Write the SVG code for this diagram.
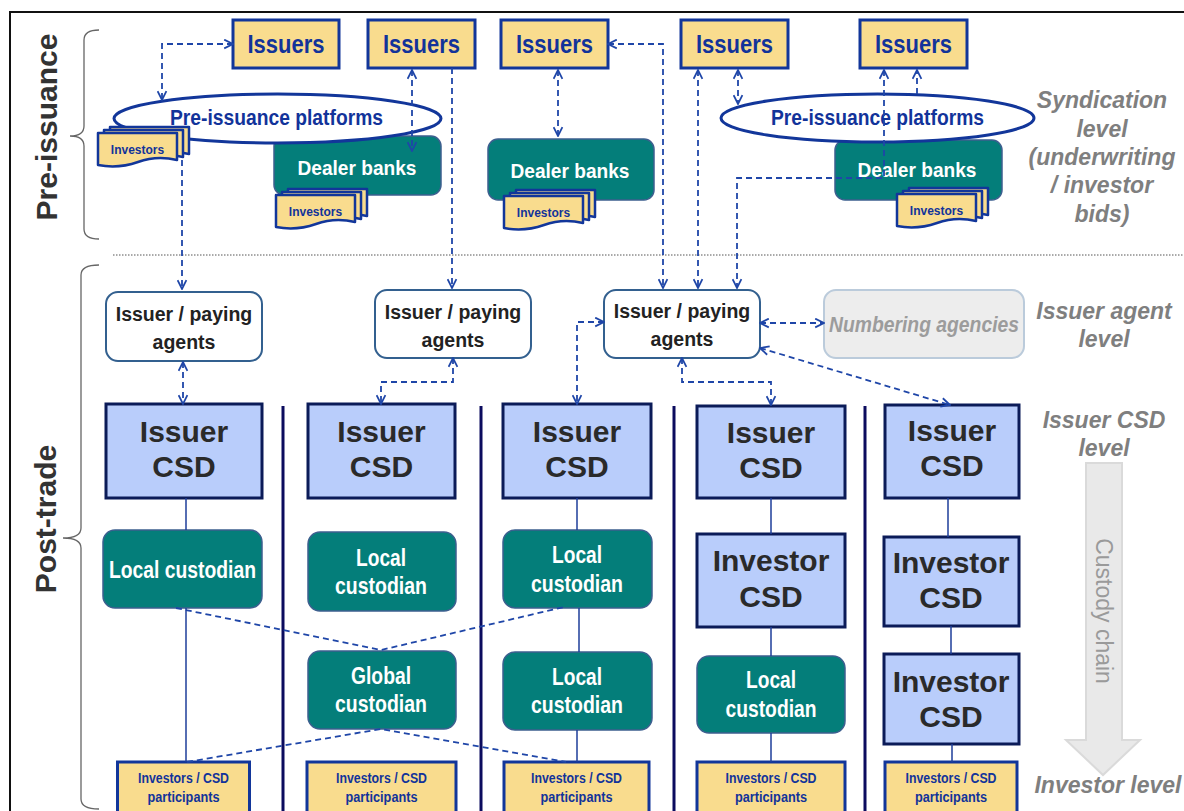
<svg xmlns="http://www.w3.org/2000/svg" xmlns:xlink="http://www.w3.org/1999/xlink" width="1184" height="811" viewBox="0 0 1184 811">
<style>
text{font-family:"Liberation Sans",Arial,sans-serif;font-weight:bold;text-anchor:middle}
.iss{fill:#F9DC8E;stroke:#12369A;stroke-width:3}
.tiss{font-size:25px;fill:#12339A}
.ell{fill:#fff;stroke:#12369A;stroke-width:3}
.tell{font-size:22px;fill:#12339A}
.dealer{fill:#047E7A;stroke:#3D5F8F;stroke-width:1.5}
.tw{fill:#fff;font-size:23px}
.agent{fill:#fff;stroke:#33608F;stroke-width:2}
.tag{fill:#222;font-size:19.5px}
.csd{fill:#B9CDFB;stroke:#0B1B58;stroke-width:3}
.tcsd{fill:#2A2A2A;font-size:30px}
.card{fill:#F9DC8E;stroke:#12369A;stroke-width:2.5;stroke-linejoin:round}
.tinv{fill:#12339A;font-size:12px}
.tip{fill:#12339A;font-size:14px}
.num{fill:#EDEDED;stroke:#BBCBDB;stroke-width:2}
.side{fill:#7F7F7F;font-style:italic;font-size:23px}
.dash{stroke:#1F46A8;stroke-width:1.8;stroke-dasharray:6 4;fill:none}
.solid{stroke:#1F3F9A;stroke-width:1.5;fill:none}
.sep{stroke:#0B0B5E;stroke-width:3}
.brace{fill:none;stroke:#666;stroke-width:1.3}
</style>
<defs>
<marker id="ah" viewBox="0 0 10 10" refX="9" refY="5" markerWidth="11" markerHeight="11" markerUnits="userSpaceOnUse" orient="auto-start-reverse">
<path d="M1,1 L9,5 L1,9" fill="none" stroke="#1F46A8" stroke-width="1.6"/>
</marker>
<g id="stk">
<path class="card" transform="translate(12,-6)" d="M0,0 H79 V27 Q59,22 40,29 Q20,36 0,32 Z"/>
<path class="card" transform="translate(6,-3)" d="M0,0 H79 V27 Q59,22 40,29 Q20,36 0,32 Z"/>
<path class="card" d="M0,0 H79 V27 Q59,22 40,29 Q20,36 0,32 Z"/>
<text class="tinv" x="39.5" y="21">Investors</text>
</g>
</defs>
<rect width="1184" height="811" fill="#fff"/>
<path d="M10,811 V12 H1184" fill="none" stroke="#111" stroke-width="2"/>
<line x1="113" y1="255" x2="1184" y2="255" stroke="#555" stroke-width="1" stroke-dasharray="1.5 1.5"/>

<g id="labels-left">
<text transform="translate(57,127) rotate(-90)" font-size="30" fill="#333">Pre-issuance</text>
<text transform="translate(56,519) rotate(-90)" font-size="30" fill="#333">Post-trade</text>
<path class="brace" d="M99,30 Q84,30 84,40 V126 Q84,136 70,136 Q84,136 84,146 V229 Q84,239 99,239"/>
<path class="brace" d="M99,265 Q81,265 81,275 V528 Q81,538 63,538 Q81,538 81,548 V799 Q81,809 99,809"/>
</g>

<g id="side-labels">
<text class="side" x="1102" y="108">Syndication</text>
<text class="side" x="1102" y="137">level</text>
<text class="side" x="1102" y="165">(underwriting</text>
<text class="side" x="1102" y="193">/ investor</text>
<text class="side" x="1102" y="222">bids)</text>
<text class="side" x="1104" y="319">Issuer agent</text>
<text class="side" x="1104" y="347">level</text>
<text class="side" x="1104" y="428">Issuer CSD</text>
<text class="side" x="1104" y="456">level</text>
<text class="side" x="1108" y="793">Investor level</text>
</g>

<g id="custody-chain">
<path d="M1086,463 H1122 V740 H1140 L1103,775 L1066,740 H1086 Z" fill="#E9E9E9" stroke="#DADADA" stroke-width="2"/>
<text transform="translate(1096,611) rotate(90)" font-size="23" font-weight="normal" fill="#9A9A9A" style="font-weight:normal">Custody chain</text>
</g>

<g id="separators">
<line class="sep" x1="283" y1="406" x2="283" y2="811"/>
<line class="sep" x1="481" y1="406" x2="481" y2="811"/>
<line class="sep" x1="674" y1="406" x2="674" y2="811"/>
<line class="sep" x1="865" y1="406" x2="865" y2="811"/>
</g>

<!-- pre-issuance nodes -->
<g id="dealer1"><rect class="dealer" x="274" y="136" width="167" height="59" rx="10"/><text class="tw" x="357" y="175" font-size="21" style="font-size:21px" textLength="119" lengthAdjust="spacingAndGlyphs">Dealer banks</text></g>
<g id="dealer2"><rect class="dealer" x="488" y="139" width="166" height="61" rx="10"/><text class="tw" x="570" y="178" style="font-size:21px" textLength="119" lengthAdjust="spacingAndGlyphs">Dealer banks</text></g>
<g id="dealer3"><rect class="dealer" x="835" y="140" width="167" height="60" rx="10"/><text class="tw" x="917" y="177" style="font-size:21px" textLength="119" lengthAdjust="spacingAndGlyphs">Dealer banks</text></g>
<g id="platform1"><ellipse class="ell" cx="277.5" cy="118.5" rx="163.5" ry="24.5"/><text class="tell" x="276.5" y="125" textLength="213" lengthAdjust="spacingAndGlyphs">Pre-issuance platforms</text></g>
<g id="platform2"><ellipse class="ell" cx="877.5" cy="118" rx="156.5" ry="24"/><text class="tell" x="877.5" y="125" textLength="213" lengthAdjust="spacingAndGlyphs">Pre-issuance platforms</text></g>
<g id="investors1"><use xlink:href="#stk" href="#stk" x="98" y="133"/></g>
<g id="investors2"><use xlink:href="#stk" href="#stk" x="276" y="195"/></g>
<g id="investors3"><use xlink:href="#stk" href="#stk" x="504" y="196"/></g>
<g id="investors4"><use xlink:href="#stk" href="#stk" x="897" y="194"/></g>
<g id="issuers1"><rect class="iss" x="233" y="20" width="106" height="48"/><text class="tiss" x="286" y="53" textLength="77" lengthAdjust="spacingAndGlyphs">Issuers</text></g>
<g id="issuers2"><rect class="iss" x="368" y="20" width="107" height="48"/><text class="tiss" x="421.5" y="53" textLength="77" lengthAdjust="spacingAndGlyphs">Issuers</text></g>
<g id="issuers3"><rect class="iss" x="501" y="20" width="107" height="48"/><text class="tiss" x="554.5" y="53" textLength="77" lengthAdjust="spacingAndGlyphs">Issuers</text></g>
<g id="issuers4"><rect class="iss" x="681" y="20" width="107" height="48"/><text class="tiss" x="734.5" y="53" textLength="77" lengthAdjust="spacingAndGlyphs">Issuers</text></g>
<g id="issuers5"><rect class="iss" x="860" y="20" width="107" height="48"/><text class="tiss" x="913.5" y="53" textLength="77" lengthAdjust="spacingAndGlyphs">Issuers</text></g>

<!-- issuer agent level -->
<g id="agent1"><rect class="agent" x="106" y="292" width="156" height="69" rx="12"/><text class="tag" x="184" y="321">Issuer / paying</text><text class="tag" x="184" y="349">agents</text></g>
<g id="agent2"><rect class="agent" x="375" y="290" width="156" height="68" rx="12"/><text class="tag" x="453" y="319">Issuer / paying</text><text class="tag" x="453" y="347">agents</text></g>
<g id="agent3"><rect class="agent" x="604" y="290" width="156" height="68" rx="12"/><text class="tag" x="682" y="318">Issuer / paying</text><text class="tag" x="682" y="346">agents</text></g>
<g id="numbering"><rect class="num" x="824" y="290" width="200" height="68" rx="12"/><text x="924" y="332" font-size="22" style="font-style:italic" fill="#9C9C9C" textLength="190" lengthAdjust="spacingAndGlyphs">Numbering agencies</text></g>

<!-- issuer CSDs -->
<g id="csd1"><rect class="csd" x="106" y="404" width="156" height="94"/><text class="tcsd" x="184" y="442">Issuer</text><text class="tcsd" x="184" y="477">CSD</text></g>
<g id="csd2"><rect class="csd" x="308" y="404" width="147" height="94"/><text class="tcsd" x="381.5" y="442">Issuer</text><text class="tcsd" x="381.5" y="477">CSD</text></g>
<g id="csd3"><rect class="csd" x="503" y="404" width="148" height="94"/><text class="tcsd" x="577" y="442">Issuer</text><text class="tcsd" x="577" y="477">CSD</text></g>
<g id="csd4"><rect class="csd" x="697" y="406" width="148" height="92"/><text class="tcsd" x="771" y="443">Issuer</text><text class="tcsd" x="771" y="478">CSD</text></g>
<g id="csd5"><rect class="csd" x="885" y="405" width="134" height="93"/><text class="tcsd" x="952" y="441">Issuer</text><text class="tcsd" x="952" y="476">CSD</text></g>

<!-- custodians -->
<g id="local1"><rect class="dealer" x="103" y="530" width="159" height="78" rx="12"/><text class="tw" x="182.5" y="578" textLength="147" lengthAdjust="spacingAndGlyphs">Local custodian</text></g>
<g id="local2"><rect class="dealer" x="308" y="532" width="148" height="79" rx="12"/><text class="tw" x="381" y="566" textLength="50" lengthAdjust="spacingAndGlyphs">Local</text><text class="tw" x="381" y="594" textLength="92" lengthAdjust="spacingAndGlyphs">custodian</text></g>
<g id="local3"><rect class="dealer" x="503" y="530" width="149" height="78" rx="12"/><text class="tw" x="577" y="563" textLength="50" lengthAdjust="spacingAndGlyphs">Local</text><text class="tw" x="577" y="592" textLength="92" lengthAdjust="spacingAndGlyphs">custodian</text></g>
<g id="global"><rect class="dealer" x="308" y="651" width="148" height="78" rx="12"/><text class="tw" x="381" y="684" textLength="60" lengthAdjust="spacingAndGlyphs">Global</text><text class="tw" x="381" y="712" textLength="92" lengthAdjust="spacingAndGlyphs">custodian</text></g>
<g id="local4"><rect class="dealer" x="503" y="652" width="149" height="78" rx="12"/><text class="tw" x="577" y="685" textLength="50" lengthAdjust="spacingAndGlyphs">Local</text><text class="tw" x="577" y="713" textLength="92" lengthAdjust="spacingAndGlyphs">custodian</text></g>
<g id="local5"><rect class="dealer" x="697" y="656" width="148" height="77" rx="12"/><text class="tw" x="771" y="688" textLength="50" lengthAdjust="spacingAndGlyphs">Local</text><text class="tw" x="771" y="717" textLength="91" lengthAdjust="spacingAndGlyphs">custodian</text></g>

<!-- investor CSDs -->
<g id="invcsd1"><rect class="csd" x="697" y="534" width="148" height="93"/><text class="tcsd" x="771" y="571">Investor</text><text class="tcsd" x="771" y="607">CSD</text></g>
<g id="invcsd2"><rect class="csd" x="884" y="537" width="135" height="89"/><text class="tcsd" x="951" y="573">Investor</text><text class="tcsd" x="951" y="608">CSD</text></g>
<g id="invcsd3"><rect class="csd" x="884" y="654" width="135" height="90"/><text class="tcsd" x="951" y="692">Investor</text><text class="tcsd" x="951" y="727">CSD</text></g>

<!-- investors / CSD participants -->
<g id="part1"><rect class="iss" x="117.5" y="762" width="132" height="56"/><text class="tip" x="183.5" y="783" textLength="91" lengthAdjust="spacingAndGlyphs">Investors / CSD</text><text class="tip" x="183.5" y="802" textLength="72" lengthAdjust="spacingAndGlyphs">participants</text></g>
<g id="part2"><rect class="iss" x="307" y="762" width="149" height="56"/><text class="tip" x="381.5" y="783" textLength="91" lengthAdjust="spacingAndGlyphs">Investors / CSD</text><text class="tip" x="381.5" y="802" textLength="72" lengthAdjust="spacingAndGlyphs">participants</text></g>
<g id="part3"><rect class="iss" x="504" y="762" width="145" height="56"/><text class="tip" x="576.5" y="783" textLength="91" lengthAdjust="spacingAndGlyphs">Investors / CSD</text><text class="tip" x="576.5" y="802" textLength="72" lengthAdjust="spacingAndGlyphs">participants</text></g>
<g id="part4"><rect class="iss" x="697" y="762" width="148" height="56"/><text class="tip" x="771" y="783" textLength="91" lengthAdjust="spacingAndGlyphs">Investors / CSD</text><text class="tip" x="771" y="802" textLength="72" lengthAdjust="spacingAndGlyphs">participants</text></g>
<g id="part5"><rect class="iss" x="885" y="762" width="132" height="56"/><text class="tip" x="951" y="783" textLength="91" lengthAdjust="spacingAndGlyphs">Investors / CSD</text><text class="tip" x="951" y="802" textLength="72" lengthAdjust="spacingAndGlyphs">participants</text></g>

<g id="connectors">
<path class="dash" d="M233,44 H162 V100" marker-start="url(#ah)" marker-end="url(#ah)"/>
<path class="dash" d="M412,70 V151" marker-start="url(#ah)" marker-end="url(#ah)"/>
<path class="dash" d="M182,160 V289" marker-end="url(#ah)"/>
<path class="dash" d="M452,68 V288" marker-end="url(#ah)"/>
<path class="dash" d="M558,70 V136" marker-start="url(#ah)" marker-end="url(#ah)"/>
<path class="dash" d="M608,44 H663 V288" marker-start="url(#ah)" marker-end="url(#ah)"/>
<path class="dash" d="M698,70 V288" marker-start="url(#ah)" marker-end="url(#ah)"/>
<path class="dash" d="M738,70 V104" marker-start="url(#ah)" marker-end="url(#ah)"/>
<path class="dash" d="M884,70 V178 H737 V288" marker-start="url(#ah)" marker-end="url(#ah)"/>
<path class="dash" d="M917,94 V70" marker-end="url(#ah)"/>
<path class="dash" d="M183,362 V404" marker-start="url(#ah)" marker-end="url(#ah)"/>
<path class="dash" d="M453,358 V382 H381 V404" marker-start="url(#ah)" marker-end="url(#ah)"/>
<path class="dash" d="M604,322 H577 V404" marker-start="url(#ah)" marker-end="url(#ah)"/>
<path class="dash" d="M682,358 V382 H771 V405" marker-start="url(#ah)" marker-end="url(#ah)"/>
<path class="dash" d="M760,323 H824" marker-start="url(#ah)" marker-end="url(#ah)"/>
<path class="dash" d="M760,348 L950,405" marker-start="url(#ah)" marker-end="url(#ah)"/>
<path class="dash" d="M176,608 L381,650 L564,607"/>
<path class="dash" d="M187,762 L381,729 L566,762"/>
<path class="solid" d="M186,498 V530 M186,608 V762 M577,498 V530 M579,608 V652 M577,730 V762 M771,498 V534 M771,627 V656 M771,733 V762 M948,498 V537 M951,626 V654 M952,744 V762"/>
</g>
</svg>
